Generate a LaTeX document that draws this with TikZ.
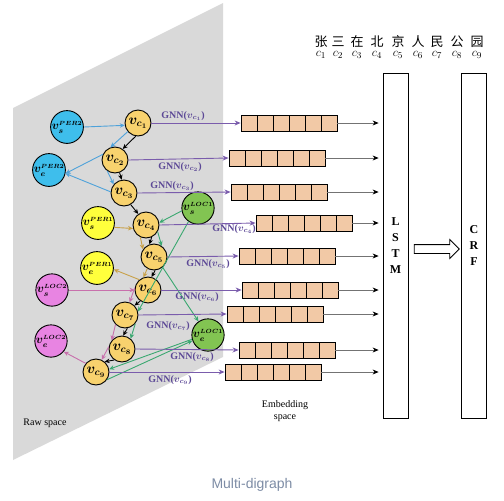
\documentclass[tikz,border=0pt]{standalone}
\usepackage{amsmath,amssymb}
\usepackage{fontspec}
\setmainfont{Liberation Serif}
\newfontfamily\cjk{Noto Sans CJK SC}
\newfontfamily\capfont{Liberation Sans}
\usetikzlibrary{arrows.meta,shapes.arrows}
\definecolor{rawgray}{RGB}{217,217,217}
\definecolor{charfill}{RGB}{248,210,110}
\definecolor{boxfill}{RGB}{242,201,166}
\definecolor{perblue}{RGB}{62,190,236}
\definecolor{perblueline}{RGB}{78,162,218}
\definecolor{peryellow}{RGB}{255,255,60}
\definecolor{pergold}{RGB}{200,160,70}
\definecolor{locgreen}{RGB}{130,196,82}
\definecolor{locgreenline}{RGB}{58,168,112}
\definecolor{locpink}{RGB}{232,132,226}
\definecolor{locpinkline}{RGB}{200,112,172}
\definecolor{gnnline}{RGB}{122,92,172}
\definecolor{gnntext}{RGB}{92,72,150}
\definecolor{captext}{RGB}{125,140,165}
\newcommand{\entlabel}[2]{$\boldsymbol{v_{#1}^{\scriptscriptstyle #2}}$}

\begin{document}
\begin{tikzpicture}[x=1pt,y=-1pt]
\tikzset{
  charnode/.style={circle,draw,line width=0.9pt,minimum size=26pt,inner sep=0pt,fill=charfill,font=\fontsize{14}{14}\selectfont},
  entnode/.style={circle,draw,line width=0.9pt,minimum size=30pt,inner sep=0pt,font=\fontsize{12}{12}\selectfont},
  seq/.style={-{Stealth[length=5pt,width=4.5pt]},line width=0.9pt},
  gnnarrow/.style={-{Stealth[length=6pt,width=5pt]},line width=0.9pt,gnnline},
  gnnlabel/.style={text=gnntext,font=\bfseries\fontsize{10}{10}\selectfont,inner sep=0pt},
  embbox/.style={rectangle,draw,line width=0.8pt,fill=boxfill,minimum width=96pt,minimum height=16pt,inner sep=0pt,
    path picture={\foreach \k in {1,...,5}
      \draw[line width=0.8pt] ([xshift=\k*16pt]path picture bounding box.south west) -- ([xshift=\k*16pt]path picture bounding box.north west);}},
  feed/.style={-{Stealth[length=6pt,width=5pt,black]},line width=0.7pt,black!55,shorten >=4pt},
  layerbox/.style={rectangle,draw,line width=0.8pt,minimum width=25pt,minimum height=345pt,inner sep=0pt,align=center,font=\bfseries\fontsize{12}{16}\selectfont},
  hollowarrow/.style={single arrow,draw,line width=0.8pt,minimum height=45pt,inner xsep=0pt,inner ysep=4pt,single arrow head extend=5pt},
  hanzi/.style={font=\cjk\fontsize{13}{13}\selectfont,inner sep=0pt},
  clabel/.style={font=\fontsize{13}{13}\selectfont,inner sep=0pt},
  plain/.style={font=\fontsize{10}{12}\selectfont,inner sep=0pt,align=center}
}
\useasboundingbox (0,0) rectangle (504,501);
% raw space
\fill[rawgray] (13,108) -- (223,3) -- (223,357) -- (13,460) -- cycle;
\node[plain] (rawlabel) at (45,423) {Raw space};

% character nodes
\node[charnode] (c1) at (138,123) {$\boldsymbol{v_{c_1}}$};
\node[charnode] (c2) at (115,160) {$\boldsymbol{v_{c_2}}$};
\node[charnode] (c3) at (124,193) {$\boldsymbol{v_{c_3}}$};
\node[charnode] (c4) at (146,225) {$\boldsymbol{v_{c_4}}$};
\node[charnode] (c5) at (154,257) {$\boldsymbol{v_{c_5}}$};
\node[charnode] (c6) at (148,290) {$\boldsymbol{v_{c_6}}$};
\node[charnode] (c7) at (125,315) {$\boldsymbol{v_{c_7}}$};
\node[charnode] (c8) at (122,349) {$\boldsymbol{v_{c_8}}$};
\node[charnode] (c9) at (96,372) {$\boldsymbol{v_{c_9}}$};

% entity nodes
\node[entnode,fill=perblue] (sPER2) at (67,127) {\entlabel{s}{PER2}};
\node[entnode,fill=perblue] (ePER2) at (49,170) {\entlabel{e}{PER2}};
\node[entnode,fill=peryellow] (sPER1) at (98,223) {\entlabel{s}{PER1}};
\node[entnode,fill=peryellow] (ePER1) at (97,268) {\entlabel{e}{PER1}};
\node[entnode,fill=locgreen] (sLOC1) at (198,208) {\entlabel{s}{LOC1}};
\node[entnode,fill=locgreen] (eLOC1) at (208,335) {\entlabel{e}{LOC1}};
\node[entnode,fill=locpink] (sLOC2) at (52,290) {\entlabel{s}{LOC2}};
\node[entnode,fill=locpink] (eLOC2) at (51,341) {\entlabel{e}{LOC2}};

% sequence edges
\draw[seq] (c1.-100) -- (c2.55);
\draw[seq] (c2.-70) -- (c3.100);
\draw[seq] (c3.-60) -- (c4.125);
\draw[seq] (c4.-65) -- (c5.110);
\draw[seq] (c5.-85) -- (c6.75);
\draw[seq] (c6.-125) -- (c7.45);
\draw[seq] (c7.-80) -- (c8.85);
\draw[seq] (c8.-125) -- (c9.50);

% PER2
\draw[seq,perblueline] (sPER2.east) -- (c1.190);
\draw[seq,perblueline] (c1.-140) -- (c2.110);
\draw[seq,perblueline] (c2.155) -- (ePER2.-12);
\draw[seq,perblueline] (c2.-125) -- (c3.140);
\draw[seq,perblueline] (c3.175) -- (ePER2.-12);
% PER1
\draw[seq,pergold] (sPER1.-15) -- (c4.195);
\draw[seq,pergold] (c4.-115) -- (c5.145);
\draw[seq,pergold] (c5.-120) -- (c6.110);
\draw[seq,pergold] (c6.130) -- (ePER1.-5);
% LOC1
\draw[seq,locgreenline] (sLOC1.190) -- (c4.10);
\draw[seq,locgreenline] (c4.-30) -- (c5.55);
\draw[seq,locgreenline] (c5.-50) -- (eLOC1.125);
\draw[seq,locgreenline] (sLOC1.-125) -- (c7.15);
\draw[seq,locgreenline] (c7.-40) -- (c8.50);
\draw[seq,locgreenline] (eLOC1.195) -- (c9.12);
\draw[seq,locgreenline] (c9.-35) -- (eLOC1.200);
% LOC2
\draw[seq,locpinkline] (sLOC2.east) -- (c6.180);
\draw[seq,locpinkline] (c6.170) -- (c7.70);
\draw[seq,locpinkline] (c7.-135) -- (c8.140);
\draw[seq,locpinkline] (c8.170) -- (c9.65);
\draw[seq,locpinkline] (c9.140) -- (eLOC2.-40);

% embedding boxes
\node[embbox] (b1) at (289,123) {};
\node[embbox] (b2) at (277,158) {};
\node[embbox] (b3) at (279,192) {};
\node[embbox] (b4) at (304,223) {};
\node[embbox] (b5) at (287,256) {};
\node[embbox] (b6) at (290,290) {};
\node[embbox] (b7) at (275,314) {};
\node[embbox] (b8) at (287,350) {};
\node[embbox] (b9) at (273,372) {};
\node[plain] (emblabel) at (285,411) {Embedding\\space};

% GNN arrows
\draw[gnnarrow] (c1.east) -- (b1.west);
\draw[gnnarrow] (c2.east) -- (b2.west);
\draw[gnnarrow] (c3.east) -- (b3.west);
\draw[gnnarrow] (c4.east) -- (b4.west);
\draw[gnnarrow] (c5.east) -- (b5.west);
\draw[gnnarrow] (c6.east) -- (b6.west);
\draw[gnnarrow] (c7.east) -- (b7.west);
\draw[gnnarrow] (c8.east) -- (b8.west);
\draw[gnnarrow] (c9.east) -- (b9.west);
\node[gnnlabel] (g1) at (183,116) {GNN($\boldsymbol{v_{c_1}}$)};
\node[gnnlabel] (g2) at (180,167) {GNN($\boldsymbol{v_{c_2}}$)};
\node[gnnlabel] (g3) at (172,186) {GNN($\boldsymbol{v_{c_3}}$)};
\node[gnnlabel] (g4) at (234,229) {GNN($\boldsymbol{v_{c_4}}$)};
\node[gnnlabel] (g5) at (208,264) {GNN($\boldsymbol{v_{c_5}}$)};
\node[gnnlabel] (g6) at (197,297) {GNN($\boldsymbol{v_{c_6}}$)};
\node[gnnlabel] (g7) at (168,326) {GNN($\boldsymbol{v_{c_7}}$)};
\node[gnnlabel] (g8) at (192,357) {GNN($\boldsymbol{v_{c_8}}$)};
\node[gnnlabel] (g9) at (170,380) {GNN($\boldsymbol{v_{c_9}}$)};

% LSTM and CRF
\node[layerbox] (lstm) at (395.5,245.5) {L\\S\\T\\M};
\node[layerbox] (crf) at (474,245.5) {C\\R\\F};
\node[hollowarrow] (toCRF) at (434.5,249) {};
\draw[feed] (b1.east) -- (b1.east -| lstm.west);
\draw[feed] (b2.east) -- (b2.east -| lstm.west);
\draw[feed] (b3.east) -- (b3.east -| lstm.west);
\draw[feed] (b4.east) -- (b4.east -| lstm.west);
\draw[feed] (b5.east) -- (b5.east -| lstm.west);
\draw[feed] (b6.east) -- (b6.east -| lstm.west);
\draw[feed] (b7.east) -- (b7.east -| lstm.west);
\draw[feed] (b8.east) -- (b8.east -| lstm.west);
\draw[feed] (b9.east) -- (b9.east -| lstm.west);

% input sentence
\foreach \ch/\x [count=\i] in {张/321,三/338,在/357,北/377,京/398,人/418,民/437,公/457,园/477} {
  \node[hanzi] (h\i) at (\x,42) {\ch};
  \node[clabel] (l\i) at (\x,55) {$c_{\i}$};
}

\node[font=\capfont\fontsize{14}{14}\selectfont,text=captext] (caption) at (252,485) {Multi-digraph};
\end{tikzpicture}
\end{document}
